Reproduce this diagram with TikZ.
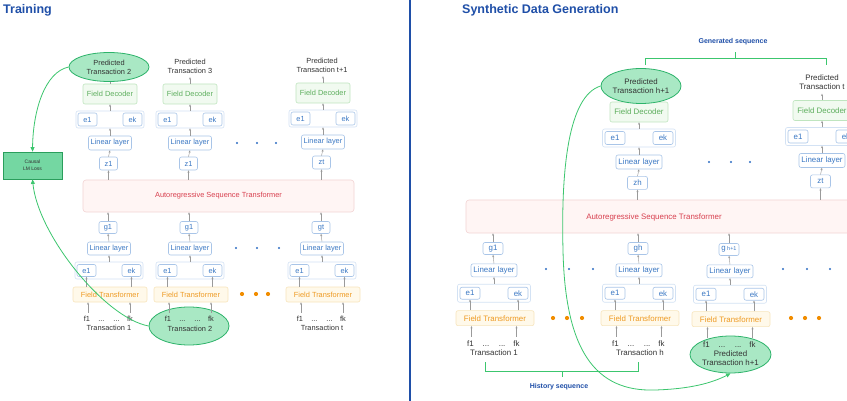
\documentclass[tikz,border=0pt]{standalone}
\usepackage{fontspec}
\setmainfont{Liberation Sans}
\usetikzlibrary{arrows.meta,shapes.geometric}

\definecolor{ttl}{HTML}{1F4FA8}
\definecolor{bxb}{HTML}{A9C5E8}
\definecolor{grb}{HTML}{D3E2F4}
\definecolor{txb}{HTML}{3C79C4}
\definecolor{fdf}{HTML}{F1FAF0}
\definecolor{fdb}{HTML}{BFE5BF}
\definecolor{fdt}{HTML}{5DAE5D}
\definecolor{ftf}{HTML}{FFF9EA}
\definecolor{ftb}{HTML}{F7E5BC}
\definecolor{ftt}{HTML}{EE9A22}
\definecolor{asf}{HTML}{FFF5F4}
\definecolor{asb}{HTML}{F2D3D3}
\definecolor{ast}{HTML}{D8404F}
\definecolor{elf}{HTML}{A9E8C4}
\definecolor{elb}{HTML}{2DB36A}
\definecolor{lmf}{HTML}{74D7A2}
\definecolor{lmb}{HTML}{2A9E5C}
\definecolor{crv}{HTML}{3CC66E}
\definecolor{dtb}{HTML}{2C6CC2}
\definecolor{dto}{HTML}{F18D00}
\definecolor{arg}{HTML}{9A9A9A}
\definecolor{txk}{HTML}{333333}

% panel-dependent sizes
\def\FS{7.4}
\def\fs{\fontsize{\FS}{9}\selectfont}

\tikzset{
  box/.style={draw=bxb, fill=white, rounded corners=2pt, text=txb, font=\fs, inner sep=0pt, line width=0.6pt},
  grp/.style={draw=grb, fill=white, rounded corners=2pt, inner sep=0pt, line width=0.6pt},
  fdec/.style={draw=fdb, fill=fdf, text=fdt, rounded corners=2pt, font=\fs, inner sep=0pt, line width=0.6pt},
  ftr/.style={draw=ftb, fill=ftf, text=ftt, rounded corners=2pt, font=\fs, inner sep=0pt, line width=0.6pt},
  astbox/.style={draw=asb, fill=asf, rounded corners=3pt, inner sep=0pt, line width=0.6pt},
  asttext/.style={text=ast, font=\fs, inner sep=0pt},
  pred/.style={ellipse, draw=elb, fill=elf, line width=0.8pt, text=txk, align=center, font=\fs, inner sep=0pt},
  lbl/.style={text=txk, font=\fs, align=center, inner sep=0pt},
  frow/.style={text=txk, font=\fs, inner sep=0pt, anchor=base},
  arr/.style={draw=arg, line width=0.45pt, -{Stealth[length=2.4pt,width=2pt]}},
  crvarr/.style={draw=crv, line width=0.8pt, -{Triangle[length=4.5pt,width=4pt]}},
  brace/.style={draw=crv, line width=0.8pt},
  title/.style={text=ttl, font=\fontsize{12.5}{14}\selectfont\bfseries, inner sep=0pt, anchor=base west},
  seqlbl/.style={text=ttl, font=\fontsize{7}{8}\selectfont\bfseries, inner sep=0pt}
}

% upper stack: field decoder, e1/ek, linear layer, z box
% #1 prefix, #2 x centre, #3 y of field decoder, #4 z label
\newcommand\upcol[4]{%
  \node[fdec, minimum width=\FDW pt, minimum height=20pt] (#1fd) at (#2,#3) {Field Decoder};
  \node[grp, minimum width=\GW pt, minimum height=\GH pt] (#1g) at (#2,#3+25.5*\K) {};
  \node[box, minimum width=\EW pt, minimum height=13pt] (#1e) at (#2-\EO,#3+25.5*\K) {e1};
  \node[box, minimum width=\EW pt, minimum height=13pt] (#1k) at (#2+\EO,#3+25.5*\K) {ek};
  \node[box, minimum width=\LW pt, minimum height=14pt] (#1ll) at (#2,#3+49*\K) {Linear layer};
  \node[box, minimum width=\ZW pt, minimum height=13pt] (#1z) at (#2-1.5,#3+69.5*\K) {#4};
  \draw[arr] (#1z.south |- \AST.north) -- (#1z.south);
  \draw[arr] (#1z.north) -- (#1ll.south);
  \draw[arr] (#1ll.north) -- (#1ll.north |- #1g.south);
  \draw[arr] (#1g.north) -- (#1g.north |- #1fd.south);
  \draw[arr] (#1fd.north) -- ++(0,-6.5);
}

% lower stack: g box, linear layer, e1/ek, field transformer, field inputs
% #1 prefix, #2 x centre, #3 y of g box, #4 g label
\newcommand\locol[4]{%
  \node[box, minimum width=\ZW pt, minimum height=12pt] (#1z) at (#2-1,#3) {#4};
  \node[box, minimum width=\LW pt, minimum height=13pt] (#1ll) at (#2,#3+21*\K) {Linear layer};
  \node[grp, minimum width=\GW pt, minimum height=\GH pt] (#1g) at (#2,#3+43*\K) {};
  \node[box, minimum width=\EW pt, minimum height=12pt] (#1e) at (#2-\EO,#3+43*\K) {e1};
  \node[box, minimum width=\EW pt, minimum height=12pt] (#1k) at (#2+\EO,#3+43*\K) {ek};
  \node[ftr, minimum width=\FTW pt, minimum height=15pt] (#1ft) at (#2+1,#3+67*\K) {Field Transformer};
  \coordinate (#1fa) at (#2-\FO,#3+85*\K);
  \coordinate (#1fb) at (#2+\FO,#3+85*\K);
  \draw[arr] (#1z.north) -- (#1z.north |- \AST.south);
  \draw[arr] (#1ll.north) -- (#1z.south);
  \draw[arr] (#1g.north) -- (#1g.north |- #1ll.south);
  \draw[arr] (#1ft.north -| #1e.south) -- (#1e.south);
  \draw[arr] (#1ft.north -| #1k.south) -- (#1k.south);
  \draw[arr] (#1fa) -- (#1fa |- #1ft.south);
  \draw[arr] (#1fb) -- (#1fb |- #1ft.south);
  \node[frow] (#1f1) at (#2-\FO-1,#3+91.5*\K+2.7) {f1};
  \node[frow] (#1d1) at (#2-\FO*0.36,#3+91.5*\K+2.7) {...};
  \node[frow] (#1d2) at (#2+\FO*0.36,#3+91.5*\K+2.7) {...};
  \node[frow] (#1fk) at (#2+\FO,#3+91.5*\K+2.7) {fk};
}

\begin{document}
\begin{tikzpicture}[x=1pt,y=-1pt]
\useasboundingbox (0,0) rectangle (847,401);
\fill[white] (0,0) rectangle (847,401);
\clip (0,0) rectangle (847,401);

% ================= Training =================
\node[title] (tTrain) at (3,14) {Training};
\draw[ttl, line width=1.2pt] (410,0) -- (410,401);

\def\K{1}\def\FDW{54}\def\GW{68}\def\GH{17}\def\EW{19}\def\EO{22.5}
\def\LW{43}\def\ZW{18}\def\FTW{74}\def\FO{21}\def\AST{astL}

\node[astbox, minimum width=271pt, minimum height=32pt] (astL) at (218.5,196) {};
\node[asttext] (astLt) at (218.5,196) {Autoregressive Sequence Transformer};

\upcol{a}{110}{94}{z1}
\upcol{b}{190}{94}{z1}
\upcol{c}{323}{93}{zt}

\node[pred, minimum width=80pt, minimum height=29pt] (pA) at (109,67) {Predicted\\Transaction 2};
\node[lbl] (pB) at (190,66.5) {Predicted\\Transaction 3};
\node[lbl] (pC) at (322,65.5) {Predicted\\Transaction t+1};

% second transaction, used as the loss target
\node[pred, minimum width=80pt, minimum height=38pt] (tB) at (189,326) {};

\locol{la}{109}{227.5}{g1}
\locol{lb}{190}{227.5}{g1}
\locol{lc}{322}{227.5}{gt}

\node[lbl] (ta) at (109,328) {Transaction 1};
\node[lbl] (tb) at (190,329) {Transaction 2};
\node[lbl] (tc) at (322,328) {Transaction t};

% continuation dots
\foreach \x in {237,257,276} \fill[dtb] (\x,143) circle (1.2);
\foreach \x in {236,257,279} \fill[dtb] (\x,248) circle (1.2);
\foreach \x in {242,256,268} \fill[dto] (\x,294) circle (2.1);

% loss
\node[draw=lmb, fill=lmf, line width=0.8pt, minimum width=59pt, minimum height=27pt,
      inner sep=0pt, align=center, text=txk, font=\fontsize{5}{7}\selectfont] (lm) at (32.5,165.5) {Causal\\LM Loss};
\draw[crvarr] (pA.west) .. controls (45,72) and (33,110) .. (lm.north);
\draw[crvarr] (tB.west) .. controls (105,318) and (38,235) .. (lm.south);

% ================= Synthetic data generation =================
\node[title] (tSyn) at (462,14) {Synthetic Data Generation};

\def\FS{7.9}
\def\K{1.02}\def\FDW{58}\def\GW{73}\def\GH{18}\def\EW{20}\def\EO{24}
\def\LW{46}\def\ZW{20}\def\FTW{78}\def\FO{22.5}\def\AST{astR}

\node[astbox, minimum width=434pt, minimum height=33pt] (astR) at (683,216.5) {};
\node[asttext] (astRt) at (654,217) {Autoregressive Sequence Transformer};

\upcol{h}{639}{112}{zh}
\upcol{t}{822}{110.5}{zt}

\node[pred, minimum width=80pt, minimum height=35pt] (ph) at (641,86) {Predicted\\Transaction h+1};
\node[lbl] (pt) at (822,82.5) {Predicted\\Transaction t};

\node[pred, minimum width=81pt, minimum height=37pt] (pb) at (730.5,354.5) {};

\def\K{1.04}
\locol{ra}{494}{248.5}{g1}
\locol{rb}{639}{248.5}{gh}
\locol{rc}{730}{249.5}{g\,{\fontsize{5.5}{6}\selectfont h+1}}

\node[lbl] (rta) at (494,353) {Transaction 1};
\node[lbl] (rtb) at (640,353) {Transaction h};
\node[lbl] (rtc) at (730.5,358.5) {Predicted\\Transaction h+1};

\foreach \x in {709,731,750} \fill[dtb] (\x,162) circle (1.2);
\foreach \x in {546,569,593,783,807,830} \fill[dtb] (\x,269) circle (1.2);
\foreach \x in {553,567,582,791,805,819} \fill[dto] (\x,318) circle (2.1);

% sequence braces
\node[seqlbl] (gen) at (733,42) {Generated sequence};
\draw[brace] (645,65) -- (645,58) -- (826,58) -- (826,65);
\draw[brace] (735,58) -- (735,52);
\node[seqlbl] (his) at (559,387) {History sequence};
\draw[brace] (485,362) -- (485,371) -- (638,371) -- (638,362);
\draw[brace] (562,371) -- (562,377);

% generated transaction fed back as the next input
\draw[crvarr] (ph.west) .. controls (568,96) and (561,170) .. (563,250)
  .. controls (565,350) and (595,392) .. (655,390)
  .. controls (690,389) and (712,383) .. (pb.south);
\end{tikzpicture}
\end{document}
